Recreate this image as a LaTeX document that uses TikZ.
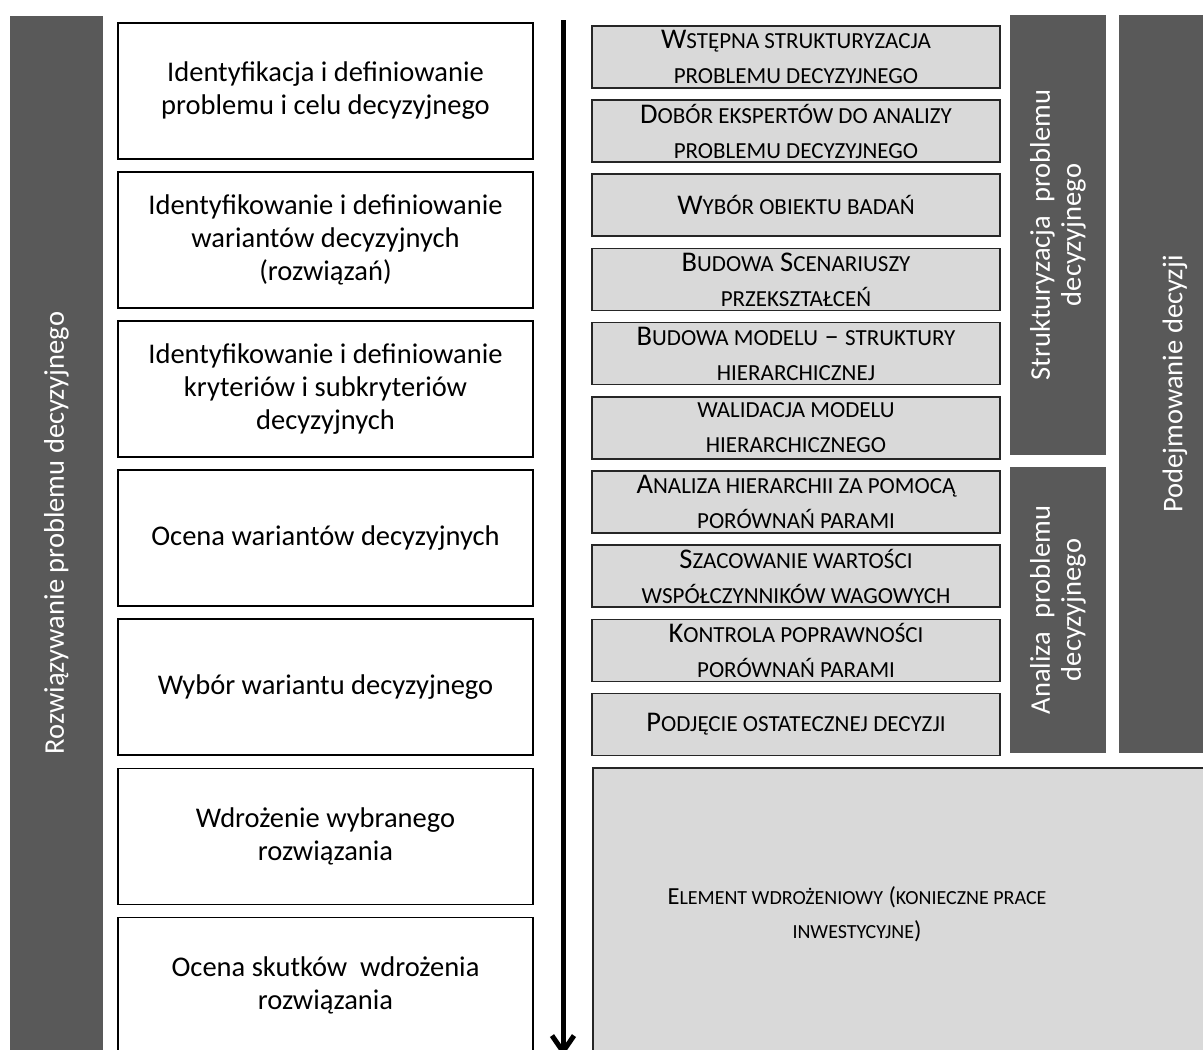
\documentclass[tikz,border=0pt]{standalone}
\usepackage{fontspec}
\setmainfont{Carlito}
\usepackage{tikz}
\usetikzlibrary{arrows.meta, positioning}
\definecolor{barfill}{HTML}{595959}
\definecolor{stepfill}{HTML}{D9D9D9}
\tikzstyle{phase} = [rectangle, draw=black, line width=1.6pt, minimum width=415pt,
    minimum height=136pt, align=center, font=\fontsize{28.5}{33}\selectfont]
\tikzstyle{stepbox} = [rectangle, draw=black!85, fill=stepfill, line width=1.6pt, minimum width=408pt,
    minimum height=62pt, align=center, font=\fontsize{28.5}{35}\selectfont]
\tikzstyle{bar} = [rectangle, fill=barfill, text=white, rotate=90, inner sep=0pt,
    align=center, font=\fontsize{28.5}{31}\selectfont]
\tikzstyle{arrow} = [line width=5pt, -{Straight Barb[length=16pt, width=22pt]}]
\newcommand{\smc}[1]{{\fontsize{23}{35}\selectfont\MakeUppercase{#1}}}
\newcommand{\smcs}[1]{{\fontsize{20}{34}\selectfont\MakeUppercase{#1}}}

\begin{document}
\begin{tikzpicture}[x=1pt, y=1pt]
  \useasboundingbox (0,0) rectangle (1203,-1050);

  % Side bars
  \node[bar, minimum width=1034pt, minimum height=93pt](lbar) at (56.5,-533)
    {Rozwiązywanie problemu decyzyjnego};
  \node[bar, minimum width=440pt, minimum height=96pt](sbar) at (1058,-235)
    {Strukturyzacja~ problemu\\decyzyjnego};
  \node[bar, minimum width=286pt, minimum height=96pt](abar) at (1058,-610)
    {Analiza~ problemu\\decyzyjnego};
  \node[bar, minimum width=738pt, minimum height=112pt](dbar) at (1175,-384)
    {Podejmowanie decyzji};

  % Process phases
  \node[phase, anchor=north](p1) at (325.5,-22)
    {Identyfikacja i definiowanie\\problemu i celu decyzyjnego};
  \node[phase, below=11.5pt of p1](p2)
    {Identyfikowanie i definiowanie\\wariantów decyzyjnych\\(rozwiązań)};
  \node[phase, below=11.5pt of p2](p3)
    {Identyfikowanie i definiowanie\\kryteriów i subkryteriów\\decyzyjnych};
  \node[phase, below=11.5pt of p3](p4){Ocena wariantów decyzyjnych};
  \node[phase, below=11.5pt of p4](p5){Wybór wariantu decyzyjnego};
  \node[phase, below=11.5pt of p5](p6){Wdrożenie wybranego\\rozwiązania};
  \node[phase, below=11.5pt of p6](p7){Ocena skutków~ wdrożenia\\rozwiązania};

  % Time axis
  \coordinate (atop) at (563,-20);
  \coordinate (abot) at (563,-1056);
  \draw[arrow](atop)--(abot);

  % Method steps
  \node[stepbox, anchor=north](s1) at (796,-25)
    {W\smc{stępna strukturyzacja}\\\smc{problemu decyzyjnego}};
  \node[stepbox, below=10.6pt of s1](s2)
    {D\smc{obór ekspertów do analizy}\\\smc{problemu decyzyjnego}};
  \node[stepbox, below=10.6pt of s2](s3){W\smc{ybór obiektu badań}};
  \node[stepbox, below=10.6pt of s3](s4)
    {B\smc{udowa} S\smc{cenariuszy}\\\smc{przekształceń}};
  \node[stepbox, below=10.6pt of s4](s5)
    {B\smc{udowa modelu} – \smc{struktury}\\\smc{hierarchicznej}};
  \node[stepbox, below=10.6pt of s5](s6)
    {\smc{walidacja modelu}\\\smc{hierarchicznego}};
  \node[stepbox, below=10.6pt of s6](s7)
    {A\smc{naliza hierarchii za pomocą}\\\smc{porównań parami}};
  \node[stepbox, below=10.6pt of s7](s8)
    {S\smc{zacowanie wartości}\\\smc{współczynników wagowych}};
  \node[stepbox, below=10.6pt of s8](s9)
    {K\smc{ontrola poprawności}\\\smc{porównań parami}};
  \node[stepbox, below=10.6pt of s9](s10){P\smc{odjęcie ostatecznej decyzji}};

  % Implementation block
  \node[rectangle, draw=black!85, fill=stepfill, line width=1.6pt, anchor=north west,
    minimum width=650pt, minimum height=300pt](impl) at (592,-767){};
  \node[align=center, font=\fontsize{24.5}{34}\selectfont](impltxt) at (857,-914)
    {E\smcs{lement wdrożeniowy} (\smcs{konieczne prace}\\\smcs{inwestycyjne})};
\end{tikzpicture}
\end{document}
